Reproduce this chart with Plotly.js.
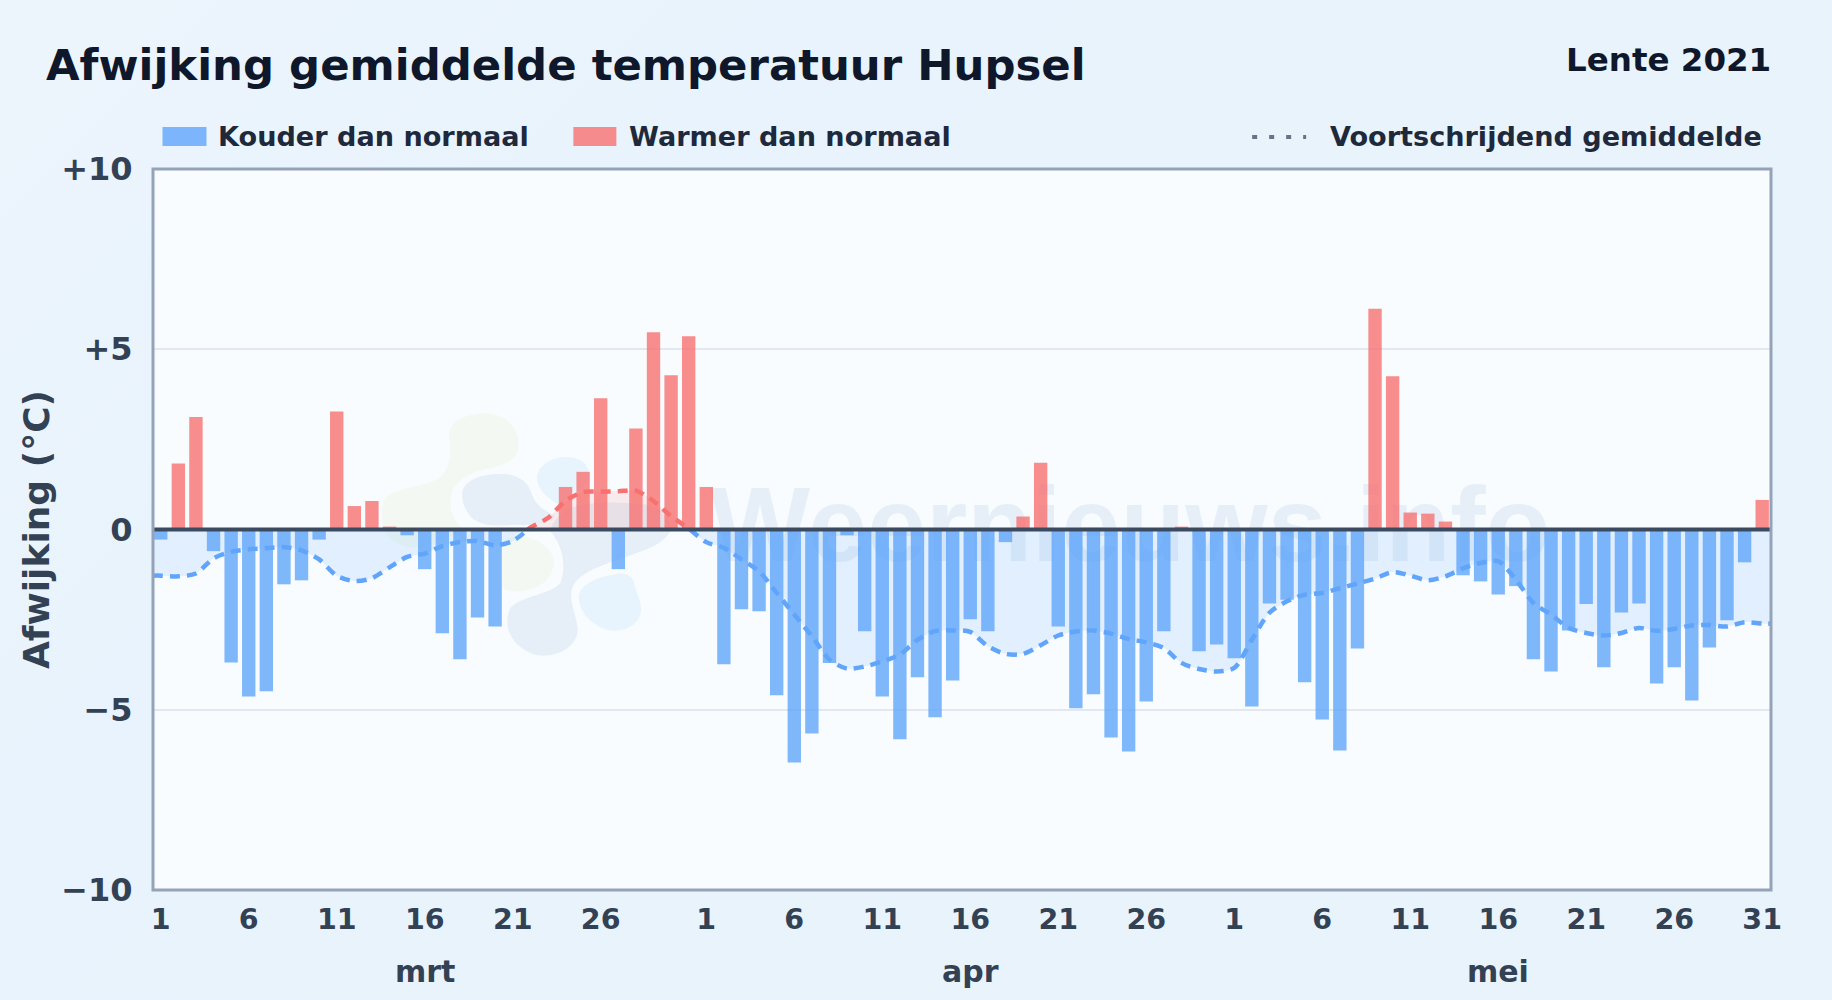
<!DOCTYPE html>
<html><head><meta charset="utf-8">
<script src="https://cdn.plot.ly/plotly-3.0.1.min.js"></script>
<style>
html,body{margin:0;padding:0;width:1832px;height:1000px;overflow:hidden;
background:linear-gradient(135deg,#edf5fc 0%,#e8f3fd 30%,#e9f3fc 100%);}
#chart{width:1832px;height:1000px;}
</style></head><body><div id="chart"></div>
<script>
const months = ["mrt","apr","mei"];
const monthLengths = [31,30,31];
const monthCentres = [15,46,76];
const shownDays = [[1,6,11,16,21,26],[1,6,11,16,21,26],[1,6,11,16,21,26,31]];

const anomaly = [
 -0.28,1.83,3.12,-0.60,-3.69,-4.63,-4.49,-1.52,-1.41,-0.28,
 3.27,0.65,0.79,0.08,-0.16,-1.10,-2.88,-3.60,-2.44,-2.69,
 0,0,0,1.18,1.60,3.64,-1.10,2.80,5.47,4.28,5.36,
 1.18,-3.74,-2.21,-2.27,-4.60,-6.46,-5.66,-3.70,-0.16,-2.82,
 -4.63,-5.82,-4.10,-5.21,-4.19,-2.49,-2.82,-0.35,0.36,1.85,
 -2.69,-4.96,-4.57,-5.77,-6.16,-4.77,-2.82,0.08,-3.38,-3.19,
 -3.57,-4.91,-2.05,-1.95,-4.24,-5.27,-6.13,-3.30,6.12,4.25,
 0.47,0.44,0.22,-1.27,-1.44,-1.80,-1.57,-3.60,-3.94,-2.80,
 -2.07,-3.82,-2.30,-2.05,-4.27,-3.82,-4.74,-3.27,-2.52,-0.91,0.82];

const movingAverage = [
 -1.28,-1.30,-1.22,-0.80,-0.62,-0.55,-0.52,-0.49,-0.58,-0.83,
 -1.28,-1.43,-1.35,-1.05,-0.76,-0.67,-0.46,-0.35,-0.32,-0.44,
 -0.32,0.05,0.32,0.79,1.04,1.05,1.06,1.08,0.79,0.37,0.03,
 -0.35,-0.51,-0.83,-1.16,-1.76,-2.36,-2.96,-3.61,-3.86,-3.80,
 -3.66,-3.47,-3.06,-2.82,-2.80,-2.84,-3.24,-3.45,-3.45,-3.21,
 -2.94,-2.83,-2.80,-2.89,-3.04,-3.13,-3.29,-3.70,-3.87,-3.94,
 -3.84,-3.06,-2.31,-1.99,-1.81,-1.76,-1.63,-1.50,-1.36,-1.18,
 -1.28,-1.41,-1.30,-1.08,-0.93,-0.88,-1.39,-2.04,-2.36,-2.73,
 -2.87,-2.94,-2.87,-2.73,-2.81,-2.76,-2.66,-2.65,-2.69,-2.57,-2.61];

const yTickValues = [-10,-5,0,5,10];
const yTickLabels = ["\u221210","\u22125","0","+5","+10"];

const L=152.5,R=1771,T=169,B=890.5;
const px=x=>(x-L)/(R-L), py=y=>(B-y)/(B-T);

const days = anomaly.map((_,i)=>i);
const tickvals=[],ticktext=[];
let offset=0;
monthLengths.forEach((n,m)=>{shownDays[m].forEach(d=>{tickvals.push(offset+d-1);ticktext.push(String(d));});offset+=n;});

const BLUE='#60a5fa', RED='#f87171';
const traces=[
 {type:'bar',name:'Kouder dan normaal',x:days.filter(i=>anomaly[i]<0),y:anomaly.filter(v=>v<0),
  width:0.76,marker:{color:'rgba(96,165,250,0.8)',line:{width:0}},showlegend:false},
 {type:'bar',name:'Warmer dan normaal',x:days.filter(i=>anomaly[i]>0),y:anomaly.filter(v=>v>0),
  width:0.76,marker:{color:'rgba(248,113,113,0.8)',line:{width:0}},showlegend:false}
];
// moving average split where it changes sign; held flat out to the plot edges
const lastIdx=movingAverage.length-1;
let seg={x:[-0.44,days[0]],y:[movingAverage[0],movingAverage[0]]},segs=[];
for(let i=1;i<movingAverage.length;i++){
  const a=movingAverage[i-1],b=movingAverage[i];
  if(a*b<0){const c=i-1+a/(a-b);seg.x.push(c);seg.y.push(0);segs.push(seg);seg={x:[c],y:[0]};}
  seg.x.push(i);seg.y.push(b);
}
seg.x.push(lastIdx+0.5);seg.y.push(movingAverage[lastIdx]);
segs.push(seg);
segs.forEach(s=>{
  const warm=s.y.reduce((p,v)=>p+v,0)>0;
  traces.push({type:'scatter',mode:'lines',name:'Voortschrijdend gemiddelde',x:s.x,y:s.y,fill:'tozeroy',
    fillcolor:warm?'rgba(248,113,113,0.12)':'rgba(96,165,250,0.15)',
    line:{color:warm?RED:BLUE,width:4.5,dash:'10px,7px',shape:'spline',smoothing:0.8},showlegend:false});
});

// watermark blobs, drawn in a local frame
const frame=s=>s.replace(/(-?\d+(?:\.\d+)?) (-?\d+(?:\.\d+)?)/g,(m,a,b)=>px(370+a/3).toFixed(5)+' '+py(395+b/3).toFixed(5));
const blobs=[
 ['#f3f9f2','M 235 120 C 240 70, 300 55, 350 55 C 410 60, 445 100, 445 150 C 445 195, 400 215, 340 225 C 290 235, 240 270, 240 320 C 240 360, 260 390, 280 400 C 230 440, 130 480, 70 440 C 30 410, 20 340, 50 305 C 90 275, 170 275, 205 250 C 240 225, 245 170, 235 120 Z'],
 ['#f3f9f2','M 395 440 C 440 410, 510 430, 540 470 C 565 510, 540 565, 490 580 C 450 595, 410 595, 395 575 Z'],
 ['#e6eff7','M 275 300 C 275 255, 340 235, 400 238 C 450 240, 475 265, 485 300 C 495 330, 520 345, 555 365 C 520 385, 480 395, 440 390 C 380 395, 330 395, 300 365 C 285 345, 275 325, 275 300 Z'],
 ['#e6eff7','M 540 410 C 575 450, 590 510, 570 565 C 540 600, 450 605, 420 640 C 395 690, 420 760, 500 782 C 570 790, 625 750, 622 700 C 615 650, 590 610, 610 570 C 635 530, 700 510, 760 490 C 800 470, 870 460, 900 410 C 905 380, 880 340, 830 330 C 760 320, 650 320, 600 340 C 570 355, 545 380, 540 410 Z'],
 ['#e7f4fd','M 500 245 C 505 205, 560 180, 605 188 C 645 195, 665 225, 655 260 C 630 285, 590 300, 565 330 C 530 310, 498 280, 500 245 Z'],
 ['#e7f4fd','M 625 605 C 630 565, 690 545, 730 540 C 760 530, 785 540, 790 560 C 795 590, 815 620, 812 650 C 805 690, 770 710, 725 708 C 680 705, 625 660, 625 605 Z']
];
const shapes=blobs.map(b=>({type:'path',xref:'paper',yref:'paper',layer:'below',path:frame(b[1]),fillcolor:b[0],line:{width:0}}));
// watermark text
shapes.push({type:'rect',xref:'paper',yref:'paper',layer:'below',x0:px(700),x1:px(1560),y0:py(454),y1:py(574),
  line:{width:0},fillcolor:'rgba(0,0,0,0)',
  label:{text:'Weernieuws.info',textposition:'middle center',font:{family:'Liberation Sans',size:106,weight:700,color:'#e6eff8'}}});
// zero line and plot frame
shapes.push({type:'line',xref:'paper',yref:'y',x0:0,x1:1,y0:0,y1:0,layer:'above',line:{color:'#3b4a5e',width:4}});
shapes.push({type:'rect',xref:'paper',yref:'paper',x0:0,x1:1,y0:0,y1:1,layer:'above',line:{color:'#94a3b8',width:3},fillcolor:'rgba(0,0,0,0)'});
// legend swatches
shapes.push({type:'rect',xref:'paper',yref:'paper',x0:px(162),x1:px(206),y0:py(127),y1:py(146),fillcolor:'rgba(96,165,250,0.8)',line:{width:0}});
shapes.push({type:'rect',xref:'paper',yref:'paper',x0:px(573),x1:px(616),y0:py(127),y1:py(146),fillcolor:'rgba(248,113,113,0.8)',line:{width:0}});
shapes.push({type:'line',xref:'paper',yref:'paper',x0:px(1252),x1:px(1306),y0:py(137),y1:py(137),line:{color:'#64748b',width:4,dash:'5px,12px'}});

const FONT='DejaVu Sans';
const textAnno=(text,x,y,size,color,anchor)=>({text:'<b>'+text+'</b>',xref:'paper',yref:'paper',x:px(x),y:py(y),
  xanchor:anchor||'left',yanchor:'middle',showarrow:false,borderpad:0,font:{family:FONT,size,color}});
const annotations=[
 textAnno('Lente 2021',1772,59.5,32.5,'#0f172a','right'),
 textAnno('Kouder dan normaal',217,136,27.1,'#1e293b'),
 textAnno('Warmer dan normaal',628,136,27.1,'#1e293b'),
 textAnno('Voortschrijdend gemiddelde',1329,136,27.1,'#1e293b'),
];
months.forEach((m,i)=>annotations.push({text:'<b>'+m+'</b>',xref:'x',yref:'paper',x:monthCentres[i],y:py(972.5),
  xanchor:'center',yanchor:'middle',showarrow:false,font:{family:FONT,size:30,color:'#334155'}}));

const layout={
 width:1832,height:1000,paper_bgcolor:'rgba(0,0,0,0)',plot_bgcolor:'#f8fcff',
 margin:{l:L,r:1832-R,t:T,b:1000-B,pad:0},autosize:false,
 font:{family:FONT},barmode:'overlay',showlegend:false,
 title:{text:'<b>Afwijking gemiddelde temperatuur Hupsel</b>',x:46/1832,xanchor:'left',y:1-64.5/1000,yanchor:'middle',
   font:{family:FONT,size:43.4,color:'#0f172a'}},
 xaxis:{type:'linear',range:[-0.44,91.5],tickmode:'array',tickvals,ticktext,showgrid:false,zeroline:false,
   tickfont:{family:FONT,size:28.5,color:'#334155',weight:700},ticks:'outside',ticklen:4,tickcolor:'rgba(0,0,0,0)',
   showline:false,fixedrange:true},
 yaxis:{range:[-10,10],tickmode:'array',tickvals:yTickValues,ticktext:yTickLabels,showgrid:true,gridcolor:'#e2e8f0',gridwidth:2,zeroline:false,
   tickfont:{family:FONT,size:32,color:'#334155',weight:700},ticks:'outside',ticklen:13,tickcolor:'rgba(0,0,0,0)',
   showline:false,fixedrange:true,
   title:{text:'<b>Afwijking (\u00b0C)</b>',standoff:0,font:{family:FONT,size:36,color:'#334155'}}},
 shapes,annotations
};
Plotly.newPlot('chart',traces,layout,{displayModeBar:false,responsive:false});
</script></body></html>
